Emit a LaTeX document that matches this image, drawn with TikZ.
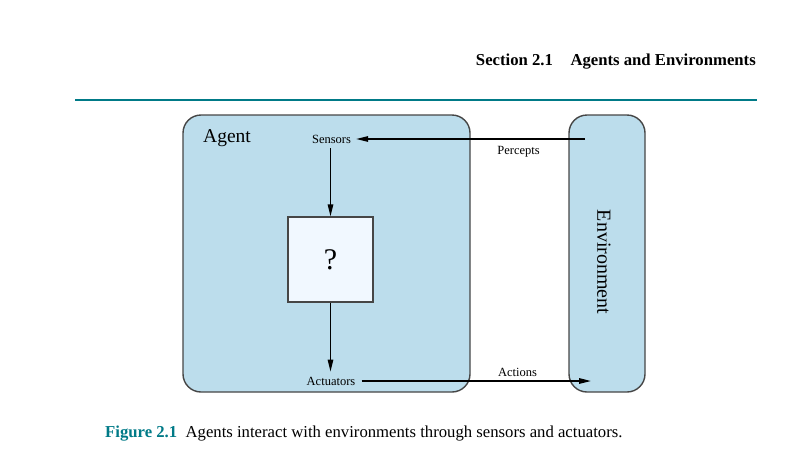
\documentclass[tikz,border=0pt]{standalone}
\usepackage{fontspec}
\setmainfont{Liberation Serif}
\usepackage{xcolor}
\usetikzlibrary{arrows.meta}

\definecolor{paneblue}{RGB}{188,221,236}
\definecolor{qwhite}{RGB}{241,248,255}
\definecolor{rulegray}{RGB}{70,70,70}
\definecolor{teal}{RGB}{0,122,135}

\tikzset{
  panel/.style={draw=rulegray, line width=1.4pt, fill=paneblue, rounded corners=18pt},
  small/.style={font=\fontsize{12.5}{14}\selectfont},
  flow/.style={line width=1.4pt, -{Triangle[length=12pt,width=5.5pt]}}
}

\begin{document}
\begin{tikzpicture}[x=1pt,y=-1pt]
    \useasboundingbox (0,0) rectangle (809,469);

    % Header and rule
    \node[anchor=base east, inner sep=0pt, font=\fontsize{16.7}{20}\selectfont\bfseries] (head) at (756,65)
        {Section 2.1\hspace{1.05em}Agents and Environments};
    \draw[teal, line width=2.6pt] (75,100) -- (757,100);

    % Boxes
    \node[panel, minimum width=287pt, minimum height=277pt] (agent) at (326.5,253.5) {};
    \node[panel, minimum width=76pt, minimum height=277pt] (env) at (607,253.5) {};
    \node[draw=rulegray, line width=1.3pt, fill=qwhite, minimum size=85pt,
          font=\fontsize{30}{34}\selectfont] (q) at (330.5,259.5) {?};

    % Labels
    \node[anchor=base west, inner sep=0pt, font=\fontsize{19.5}{22}\selectfont] (agentlbl) at (203,142) {Agent};
    \node[small, inner xsep=5pt, inner ysep=5pt] (sensors) at (331.5,139) {Sensors};
    \node[small, inner xsep=6pt, inner ysep=5pt] (actuators) at (331,381) {Actuators};
    \node[rotate=-90, font=\fontsize{20}{24}\selectfont] (envlbl) at (604,262) {Environment};
    \coordinate (pin) at (585,139);
    \coordinate (pout) at (591,381);

    % Arrows
    \draw[flow] (pin) -- node[small, below=3pt, pos=0.29] {Percepts} (sensors.east);
    \draw[flow] (sensors.south -| q.north) -- (q.north);
    \draw[flow] (q.south) -- (q.south |- actuators.north);
    \draw[flow] (actuators.east) -- node[small, above, pos=0.68] {Actions} (pout);

    % Caption
    \node[anchor=base west, inner sep=0pt, font=\fontsize{16.7}{20}\selectfont] (caption) at (105,437)
        {\textcolor{teal}{\bfseries Figure 2.1}\hspace{0.5em}Agents interact with environments through sensors and actuators.};
\end{tikzpicture}
\end{document}
